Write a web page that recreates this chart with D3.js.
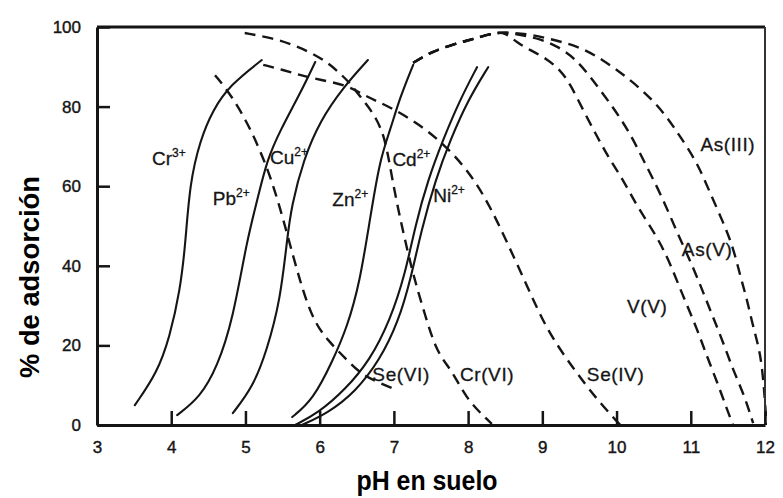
<!DOCTYPE html>
<html><head><meta charset="utf-8">
<script src="https://cdn.jsdelivr.net/npm/d3@7"></script>
<style>
html,body{margin:0;padding:0;background:#fff;}
svg{display:block;}
</style></head>
<body>
<svg id="chart" width="783" height="498"></svg>
<script>
// ---------- data ----------
const xTickValues = [3, 4, 5, 6, 7, 8, 9, 10, 11, 12];
const yTickValues = [0, 20, 40, 60, 80, 100];

// cations (solid curves): [pH, % adsorption]
const crIII = [[3.51,5.0],[3.81,13.1],[3.98,22.1],[4.12,33.9],[4.19,45.2],[4.25,60.8],[4.39,71.6],[4.56,79.1],[4.79,85.4],[5.22,91.7]];
const pbII  = [[4.08,2.5],[4.39,7.0],[4.62,14.6],[4.83,26.4],[5.02,46.5],[5.16,56.5],[5.29,66.6],[5.47,74.1],[5.74,83.4],[5.94,91.2]];
const cuII  = [[4.83,3.0],[5.10,9.5],[5.29,18.8],[5.47,31.4],[5.56,46.5],[5.62,55.0],[5.78,66.6],[6.01,76.6],[6.32,84.9],[6.65,91.7]];
const znII  = [[5.63,2.0],[5.91,6.3],[6.18,16.3],[6.37,24.6],[6.54,35.7],[6.68,52.0],[6.81,66.6],[6.95,74.1],[7.08,82.2],[7.26,90.5]];
const cdII  = [[5.67,0.0],[5.98,3.0],[6.34,8.8],[6.68,16.3],[6.95,26.4],[7.15,37.7],[7.29,50.3],[7.46,61.6],[7.66,71.6],[7.89,81.7],[8.12,89.9]];
const niII  = [[5.76,0.0],[6.11,3.0],[6.48,8.3],[6.81,16.3],[7.06,25.9],[7.23,36.9],[7.37,49.0],[7.56,61.6],[7.76,71.6],[8.00,81.7],[8.27,89.9]];

// anions (dashed curves)
const seVI  = [[4.59,87.9],[4.83,82.4],[5.10,73.4],[5.36,61.6],[5.56,48.2],[5.74,35.7],[5.91,26.4],[6.10,21.4],[6.37,16.3],[6.54,13.1],[6.77,10.8],[7.04,8.8]];
const crVI  = [[4.99,98.5],[5.37,97.2],[5.64,95.5],[5.87,93.7],[6.10,91.2],[6.27,88.4],[6.41,85.9],[6.58,81.7],[6.72,78.4],[6.84,74.1],[6.91,69.1],[6.98,61.6],[7.06,54.0],[7.15,46.5],[7.26,37.7],[7.42,27.6],[7.58,18.1],[7.78,13.8],[7.97,6.8],[8.23,1.8],[8.32,0.3]];
const seIV  = [[5.24,90.5],[5.51,89.2],[5.74,87.9],[6.01,86.7],[6.37,85.4],[6.64,82.4],[6.95,79.9],[7.31,75.9],[7.66,70.9],[8.03,63.3],[8.30,54.8],[8.53,45.7],[8.80,34.7],[9.06,23.9],[9.40,14.6],[9.74,6.3],[10.05,0.0]];
const vV    = [[7.26,91.0],[7.40,92.6],[7.53,93.8],[7.76,95.4],[7.99,96.6],[8.16,97.5],[8.36,98.5],[8.50,98.7],[8.66,96.0],[8.84,94.2],[9.06,92.0],[9.24,89.2],[9.37,85.9],[9.55,79.1],[9.74,72.4],[9.91,66.6],[10.09,61.6],[10.28,54.8],[10.55,47.2],[10.72,40.7],[10.90,32.2],[11.09,23.9],[11.22,17.1],[11.36,10.6],[11.49,3.8],[11.57,0.0]];
const asV   = [[7.26,91.0],[7.40,92.6],[7.53,93.8],[7.76,95.4],[7.99,96.6],[8.16,97.5],[8.36,98.5],[8.50,98.7],[8.70,98.0],[8.97,97.0],[9.20,95.2],[9.44,92.2],[9.68,86.7],[9.95,79.9],[10.18,73.4],[10.36,66.6],[10.59,58.3],[10.82,48.2],[11.03,39.7],[11.17,33.2],[11.30,27.1],[11.44,20.6],[11.57,13.8],[11.71,8.0],[11.84,0.5]];
const asIII = [[7.26,91.0],[7.40,92.6],[7.53,93.8],[7.76,95.4],[7.99,96.6],[8.16,97.5],[8.36,98.5],[8.50,98.7],[8.84,98.2],[9.17,96.7],[9.51,95.0],[9.82,91.7],[10.14,87.4],[10.45,82.4],[10.68,77.4],[10.86,72.4],[11.09,65.8],[11.26,58.3],[11.44,50.8],[11.57,44.7],[11.67,37.2],[11.76,31.4],[11.84,24.6],[11.94,18.1],[11.99,8.8],[12.02,0.0]];

const cationNames = ["Cr", "Pb", "Cu", "Zn", "Cd", "Ni"];
const cationCharges = ["3+", "2+", "2+", "2+", "2+", "2+"];
const cationSeries = [crIII, pbII, cuII, znII, cdII, niII];
const anionNames = ["Se(VI)", "Cr(VI)", "Se(IV)", "V(V)", "As(V)", "As(III)"];
const anionSeries = [seVI, crVI, seIV, vV, asV, asIII];

const xTitle = "pH en suelo";
const yTitle = "% de adsorción";

// ---------- layout ----------
const plot = {left: 97, right: 765, top: 27, bottom: 425};
// label anchors in data units (pH, %)
const cationLabelAt = [[3.74,65.3],[4.56,55.3],[5.33,65.6],[6.17,55.0],[6.98,65.1],[7.53,56.0]];
const anionLabelAt  = [[6.71,11.1],[7.89,11.1],[9.60,11.1],[10.14,28.1],[10.88,42.5],[11.13,68.8]];

const ink = "#151515";
const svg = d3.select("#chart");
const x = d3.scaleLinear().domain([3, 12]).range([plot.left, plot.right]);
const y = d3.scaleLinear().domain([0, 100]).range([plot.bottom, plot.top]);

svg.append("defs").append("clipPath").attr("id", "clip")
  .append("rect").attr("x", plot.left).attr("y", plot.top - 2)
  .attr("width", plot.right - plot.left + 2).attr("height", plot.bottom - plot.top + 2);

const line = d3.line().x(d => x(d[0])).y(d => y(d[1])).curve(d3.curveBasis);

const g = svg.append("g").attr("clip-path", "url(#clip)");
g.selectAll("path.cation").data(cationSeries).join("path")
  .attr("class", "cation").attr("d", line)
  .attr("fill", "none").attr("stroke", ink).attr("stroke-width", 2.1)
  .attr("stroke-linecap", "round");
g.selectAll("path.anion").data(anionSeries).join("path")
  .attr("class", "anion").attr("d", line)
  .attr("fill", "none").attr("stroke", ink).attr("stroke-width", 2.4)
  .attr("stroke-dasharray", "11,7");

// frame: top and right
svg.append("line").attr("x1", x(3)).attr("x2", x(12)).attr("y1", y(100)).attr("y2", y(100))
  .attr("stroke", ink).attr("stroke-width", 3);
svg.append("line").attr("x1", x(12)).attr("x2", x(12)).attr("y1", y(100)).attr("y2", y(0))
  .attr("stroke", "#333").attr("stroke-width", 2);

// axes
const xAxis = svg.append("g").attr("transform", `translate(0,${plot.bottom})`)
  .call(d3.axisBottom(x).tickValues(xTickValues).tickFormat(d3.format("d"))
    .tickSize(-14).tickSizeOuter(0).tickPadding(16));
const yAxis = svg.append("g").attr("transform", `translate(${plot.left},0)`)
  .call(d3.axisLeft(y).tickValues(yTickValues).tickFormat(d3.format("d"))
    .tickSize(-13).tickSizeOuter(0).tickPadding(16));
[xAxis, yAxis].forEach(a => {
  a.select(".domain").attr("stroke", ink).attr("stroke-width", 3);
  a.selectAll(".tick line").attr("stroke", ink).attr("stroke-width", 2.5);
  a.selectAll(".tick text").attr("fill", ink)
    .style("font-family", "'Liberation Sans', Arial, sans-serif").style("font-size", "17px")
    .attr("stroke", ink).attr("stroke-width", 0.4);
});

// curve labels
const labelFont = "'Liberation Sans', Arial, sans-serif";
cationNames.forEach((n, i) => {
  const t = svg.append("text").attr("x", x(cationLabelAt[i][0])).attr("y", y(cationLabelAt[i][1]))
    .attr("fill", ink).attr("stroke", ink).attr("stroke-width", 0.3)
    .style("font-family", labelFont).style("font-size", "19px");
  t.append("tspan").text(n);
  t.append("tspan").attr("dy", -8).style("font-size", "12px").text(cationCharges[i]);
});
anionNames.forEach((n, i) => {
  svg.append("text").attr("x", x(anionLabelAt[i][0])).attr("y", y(anionLabelAt[i][1]))
    .attr("fill", ink).attr("stroke", ink).attr("stroke-width", 0.3)
    .style("font-family", labelFont).style("font-size", "19px")
    .style("letter-spacing", "0.6px").text(n);
});

// titles
svg.append("text").attr("x", 427).attr("y", 490)
  .attr("text-anchor", "middle").attr("fill", "#000")
  .style("font-family", "'Liberation Sans Narrow', 'Liberation Sans', sans-serif")
  .style("font-weight", "bold").style("font-size", "28px")
  .attr("textLength", 141).attr("lengthAdjust", "spacingAndGlyphs").text(xTitle);
svg.append("text").attr("transform", "translate(39,277) rotate(-90)")
  .attr("text-anchor", "middle").attr("fill", "#000")
  .style("font-family", "'Liberation Sans Narrow', 'Liberation Sans', sans-serif")
  .style("font-weight", "bold").style("font-size", "28px")
  .attr("textLength", 202).attr("lengthAdjust", "spacingAndGlyphs").text(yTitle);
</script>
</body></html>
